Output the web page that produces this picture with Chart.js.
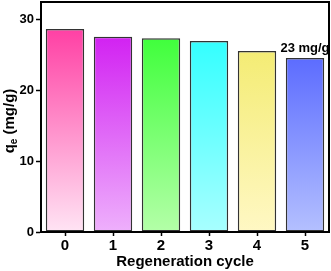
<!DOCTYPE html>
<html><head><meta charset="utf-8">
<script src="https://cdn.jsdelivr.net/npm/chart.js@4"></script>
<style>html,body{margin:0;padding:0;background:#fff}#w{width:331px;height:271px}</style>
</head><body><div id="w"><canvas id="c" width="331" height="271"></canvas></div>
<script>
const categories = ['0','1','2','3','4','5'];
const qeValues = [28.6, 27.5, 27.3, 26.9, 25.5, 24.5];
const yTicks = [0, 10, 20, 30];
const topColors = ['#ff40a4', '#d222f2', '#40ff3c', '#34ffff', '#f4ec74', '#5c6cff'];
const bottomColors = ['#ffe4f4', '#eeb0fc', '#b4ffa8', '#a8ffff', '#fff8c4', '#b4c0ff'];
const annotText = '23 mg/g';
const annotIndex = 5;

const FONT = '"Liberation Sans", Arial, sans-serif';
const frame = {
  id: 'frame',
  afterDraw(chart) {
    const {ctx, chartArea: a, scales} = chart;
    ctx.save();
    ctx.strokeStyle = '#000';
    ctx.lineWidth = 2;
    ctx.strokeRect(a.left, a.top, a.right - a.left, a.bottom - a.top);
    const x = scales.x.getPixelForValue(annotIndex);
    const y = scales.y.getPixelForValue(qeValues[annotIndex]);
    ctx.fillStyle = '#000';
    ctx.font = 'bold 13px ' + FONT;
    ctx.textAlign = 'center';
    ctx.textBaseline = 'bottom';
    ctx.fillText(annotText, x, y - 3);
    ctx.translate(10, (a.top + a.bottom) / 2 + 4);
    ctx.rotate(-Math.PI / 2);
    ctx.textBaseline = 'middle';
    ctx.textAlign = 'left';
    const q = 'q', rest = ' (mg/g)';
    ctx.font = 'bold 15px ' + FONT;
    const wq = ctx.measureText(q).width;
    const wr = ctx.measureText(rest).width;
    ctx.font = 'bold 10px ' + FONT;
    const we = ctx.measureText('e').width;
    const sx = -(wq + we + wr) / 2;
    ctx.font = 'bold 15px ' + FONT;
    ctx.fillText(q, sx, 0);
    ctx.font = 'bold 10px ' + FONT;
    ctx.fillText('e', sx + wq, 4);
    ctx.font = 'bold 15px ' + FONT;
    ctx.fillText(rest, sx + wq + we, 0);
    ctx.restore();
  }
};

new Chart(document.getElementById('c'), {
  type: 'bar',
  data: {
    labels: categories,
    datasets: [{
      data: qeValues,
      backgroundColor(ctx) {
        const chart = ctx.chart;
        const a = chart.chartArea;
        if (!a) return topColors[ctx.dataIndex];
        const yTop = chart.scales.y.getPixelForValue(qeValues[ctx.dataIndex]);
        const g = chart.ctx.createLinearGradient(0, yTop, 0, a.bottom);
        g.addColorStop(0, topColors[ctx.dataIndex]);
        g.addColorStop(1, bottomColors[ctx.dataIndex]);
        return g;
      },
      borderColor: '#333',
      borderWidth: 1.5,
      borderSkipped: false,
      barPercentage: 0.8,
      categoryPercentage: 1.0
    }]
  },
  options: {
    responsive: false,
    animation: false,
    devicePixelRatio: 1,
    layout: {padding: {top: 2, right: 2, left: 0, bottom: 0}},
    plugins: {legend: {display: false}, tooltip: {enabled: false}},
    scales: {
      x: {
        grid: {display: true, offset: false, drawOnChartArea: false, drawTicks: true, tickLength: 4, tickColor: '#000', tickWidth: 1.5},
        border: {display: true, color: '#000', width: 2},
        ticks: {color: '#000', font: {family: FONT, size: 15, weight: 'bold'}, padding: 1},
        title: {display: true, text: 'Regeneration cycle', color: '#000', font: {family: FONT, size: 15, weight: 'bold'}, padding: {top: -3, bottom: 0}},
        afterFit(s) { s.height = 39; s.paddingLeft = 0; s.paddingRight = 0; }
      },
      y: {
        min: 0, max: 32.4,
        afterBuildTicks(s) { s.ticks = yTicks.map(v => ({value: v})); },
        grid: {display: true, drawOnChartArea: false, drawTicks: true, tickLength: 5, tickColor: '#000', tickWidth: 1.5},
        border: {display: true, color: '#000', width: 2},
        ticks: {color: '#000', font: {family: FONT, size: 13, weight: 'bold'}, padding: 2},
        afterFit(s) { s.width = 41; s.paddingTop = 0; s.paddingBottom = 0; }
      }
    }
  },
  plugins: [frame]
});
</script></body></html>
